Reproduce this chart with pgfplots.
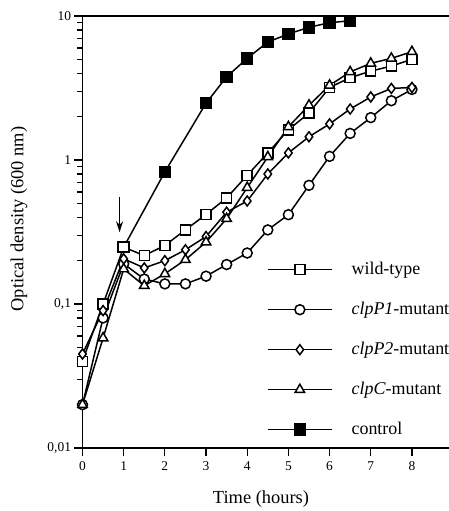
\documentclass[border=0pt]{standalone}
\usepackage{fontspec}
\setmainfont{Liberation Serif}
\usepackage{pgfplots}
\pgfplotsset{compat=1.18}
\usetikzlibrary{arrows.meta}

\pgfplotstableread{
t v
0 0.04
0.5 0.1
1 0.248
1.5 0.217
2 0.255
2.5 0.327
3 0.419
3.5 0.545
4 0.783
4.5 1.12
5 1.62
5.5 2.12
6 3.19
6.5 3.73
7 4.14
7.5 4.49
8 5.0
}\wildtype

\pgfplotstableread{
t v
0 0.02
0.5 0.08
1 0.19
1.5 0.149
2 0.138
2.5 0.138
3 0.156
3.5 0.188
4 0.226
4.5 0.327
5 0.417
5.5 0.667
6 1.06
6.5 1.53
7 1.97
7.5 2.58
8 3.09
}\clpPone

\pgfplotstableread{
t v
0 0.045
0.5 0.09
1 0.206
1.5 0.178
2 0.2
2.5 0.238
3 0.294
3.5 0.434
4 0.519
4.5 0.80
5 1.12
5.5 1.45
6 1.78
6.5 2.26
7 2.74
7.5 3.14
8 3.19
}\clpPtwo

\pgfplotstableread{
t v
0 0.02
0.5 0.058
1 0.175
1.5 0.134
2 0.162
2.5 0.203
3 0.269
3.5 0.391
4 0.643
4.5 1.05
5 1.7
5.5 2.4
6 3.3
6.5 4.09
7 4.69
7.5 5.08
8 5.65
}\clpC

\pgfplotstableread{
t v
1 0.248
2 0.826
3 2.48
3.5 3.78
4 5.08
4.5 6.6
5 7.5
5.5 8.35
6 8.98
6.5 9.27
}\control

\begin{document}
\begin{tikzpicture}
\begin{axis}[
  at={(0,0)}, anchor=south west,
  scale only axis, width=366.5bp, height=432bp,
  ymode=log, xmin=0, xmax=8.9, ymin=0.01, ymax=10,
  axis x line*=bottom, axis y line*=left,
  axis line style={line width=1.5pt},
  xtick={0,1,2,3,4,5,6,7,8},
  minor x tick num=0,
  ytick={0.01,0.1,1,10},
  yticklabels={{0,01},{0,1},{1},{10}},
  minor ytick={0.02,0.03,0.04,0.05,0.06,0.07,0.08,0.09,0.2,0.3,0.4,0.5,0.6,0.7,0.8,0.9,2,3,4,5,6,7,8,9},
  tick align=outside,
  major tick length=8bp, minor tick length=5bp,
  tick style={line width=1.2pt, black},
  ticklabel style={font=\fontsize{13.5}{15}\selectfont},
  xticklabel style={yshift=-2bp},
  /pgf/number format/assume math mode=true,
  xlabel={Time (hours)},
  ylabel={Optical density (600 nm)},
  label style={font=\fontsize{18.5}{22}\selectfont},
  xlabel style={at={(axis description cs:0.487,-0.118)}, anchor=center},
  ylabel style={at={(axis description cs:-0.173,0.53)}, anchor=center},
  clip=false,
  every axis plot/.append style={black, line width=1.5pt},
  every mark/.append style={solid, line width=1.3pt},
  legend image code/.code={\draw[mark repeat=2,mark phase=2] plot coordinates {(0bp,0bp) (32bp,0bp) (64bp,0bp)};},
  legend style={at={(0.495,0.4375)}, anchor=north west, draw=none, fill=none,
    font=\fontsize{18}{21}\selectfont,
    nodes={inner sep=0pt, text height=13bp, text depth=4bp},
    row sep=23bp,
    /tikz/every odd column/.append style={column sep=19bp}},
  legend cell align=left,
]
\addplot[mark=square*, mark size=5.5pt, forget plot] table[x=t,y=v] {\control};
\addplot[mark=square*, mark size=5pt, mark options={fill=white}] table[x=t,y=v] {\wildtype};
\addlegendentry{wild-type}
\addplot[mark=*, mark size=5pt, mark options={fill=white}] table[x=t,y=v] {\clpPone};
\addlegendentry{\textit{clpP1}-mutant}
\addplot[mark=diamond*, mark size=5pt, mark options={fill=white}] table[x=t,y=v] {\clpPtwo};
\addlegendentry{\textit{clpP2}-mutant}
\addplot[mark=triangle*, mark size=5.5pt, mark options={fill=white}] table[x=t,y=v] {\clpC};
\addlegendentry{\textit{clpC}-mutant}
\addlegendimage{black, line width=1.5pt, mark=square*, mark size=5.5pt}
\addlegendentry{control}
\draw[line width=1.5pt] (rel axis cs:0,1) -- (rel axis cs:1,1);
\draw[line width=1.2pt, -{Stealth[length=11bp,width=7bp]}] (axis cs:0.9,0.55) -- (axis cs:0.9,0.315);
\end{axis}
\pgfresetboundingbox
\path (-82.5bp,-63bp) rectangle (366.5bp,448bp);
\end{tikzpicture}
\end{document}
